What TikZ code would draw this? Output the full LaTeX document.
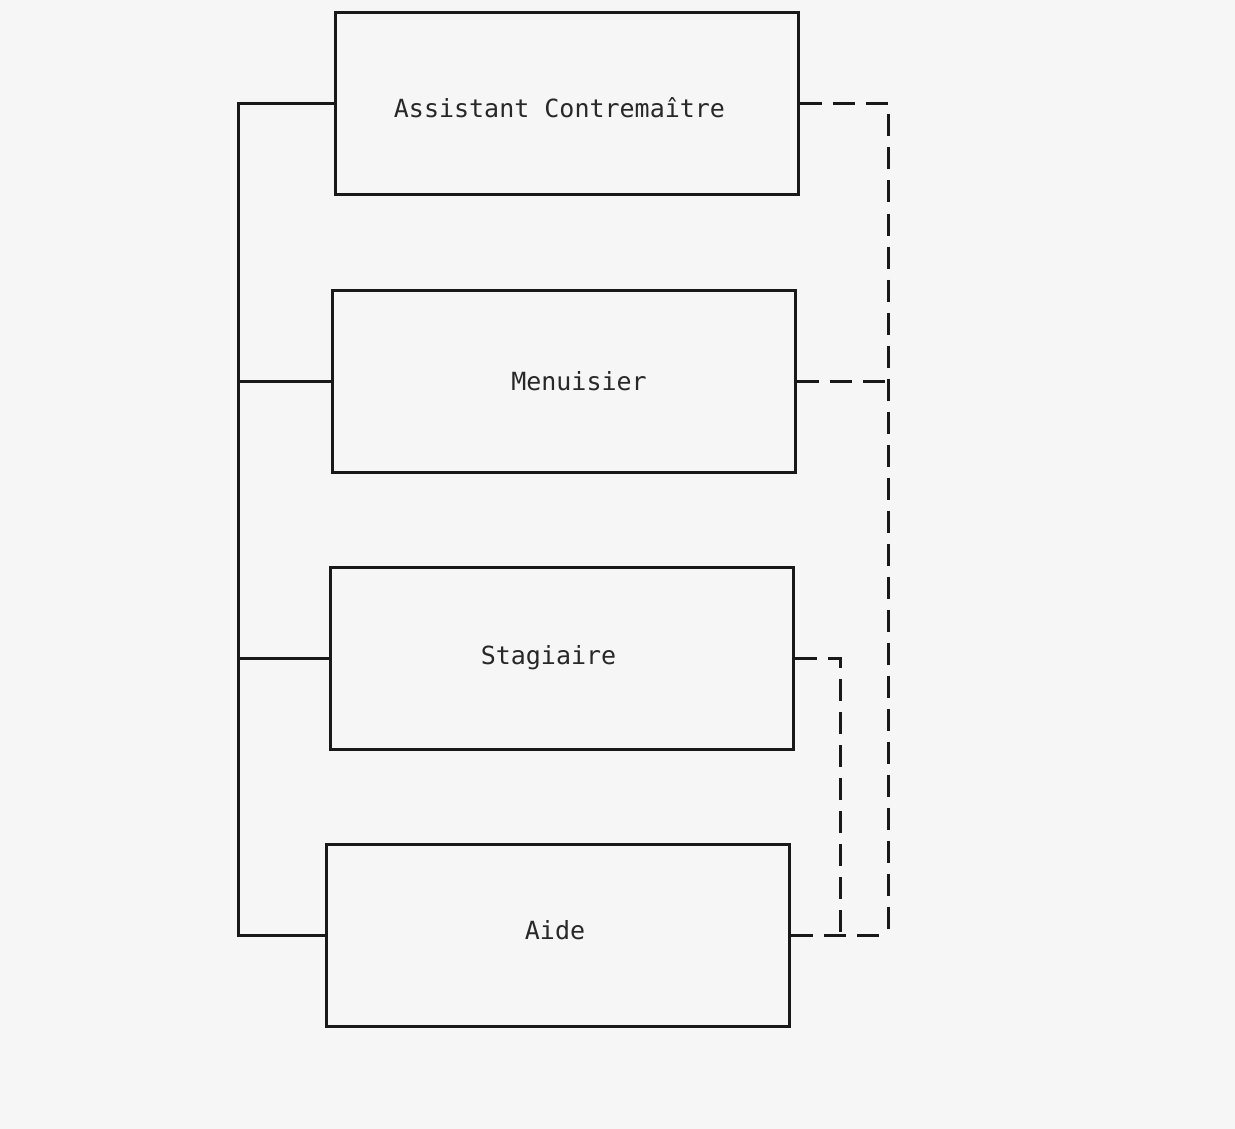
\documentclass[tikz,border=0pt]{standalone}
\usepackage{fontspec}
\usetikzlibrary{calc}
\newfontfamily\typewr{DejaVu Sans Mono}
\definecolor{paper}{RGB}{246,246,246}
\definecolor{ink}{RGB}{25,25,25}
\definecolor{txt}{RGB}{40,40,40}
\begin{document}
\begin{tikzpicture}[x=1pt,y=-1pt,
  jobbox/.style={draw=ink,line width=3pt,rectangle,minimum width=463pt,minimum height=182pt,inner sep=0pt},
  jobtext/.style={text=txt,inner sep=0pt,font=\typewr\fontsize{25}{30}\selectfont},
  solidline/.style={draw=ink,line width=3pt},
  dashline/.style={draw=ink,line width=3pt,dash pattern=on 22pt off 11pt}]
\fill[paper] (0,0) rectangle (1235,1129);
\useasboundingbox (0,0) rectangle (1235,1129);
\node[jobbox] (b1) at (566.5,104) {};
\node[jobbox] (b2) at (564,381.5) {};
\node[jobbox] (b3) at (561.5,658.5) {};
\node[jobbox] (b4) at (558,935.5) {};
\node[jobtext] (t1) at ($(b1.center)+(-7,4)$) {Assistant Contremaître};
\node[jobtext] (t2) at ($(b2.center)+(15,0)$) {Menuisier};
\node[jobtext] (t3) at ($(b3.center)+(-13,-1)$) {Stagiaire};
\node[jobtext] (t4) at ($(b4.center)+(-3,-5)$) {Aide};
\coordinate (lx) at (238,0);
\coordinate (rx) at (888,0);
\coordinate (ix) at (840,0);
\draw[solidline] (b1.west) -- (b1.west -| lx) -- (b4.west -| lx) -- (b4.west);
\draw[solidline] (b2.west) -- (b2.west -| lx);
\draw[solidline] (b3.west) -- (b3.west -| lx);
\draw[dashline] (b1.east) -- (b1.east -| rx) -- (b4.east -| rx);
\draw[dashline] (b4.east) -- (b4.east -| rx);
\draw[dashline] (b2.east) -- (b2.east -| rx);
\draw[dashline] (b3.east) -- (b3.east -| ix) -- (b4.east -| ix);
\end{tikzpicture}
\end{document}
